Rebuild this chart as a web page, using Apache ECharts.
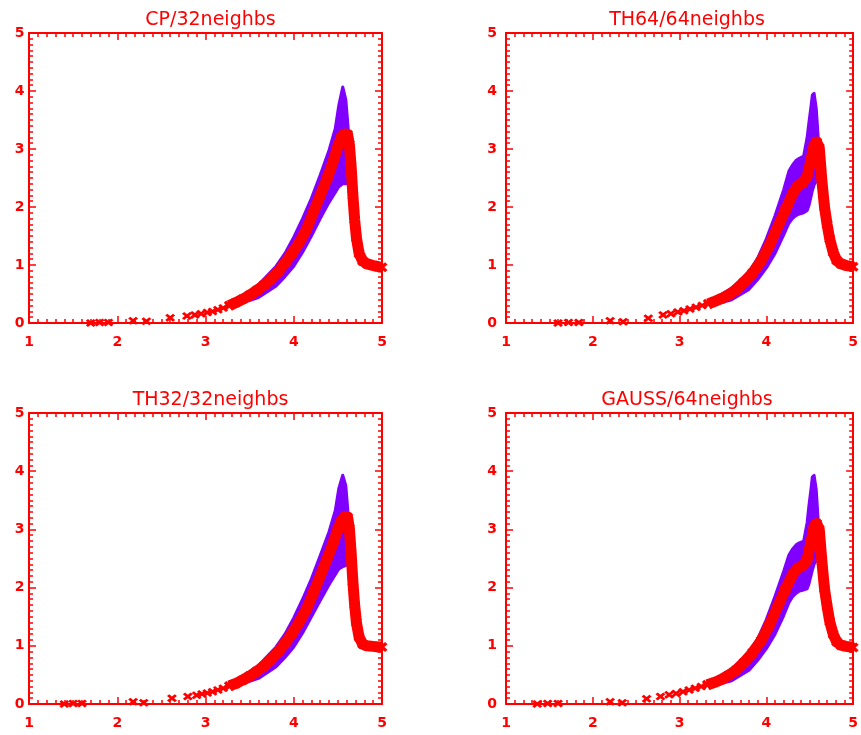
<!DOCTYPE html>
<html>
<head>
<meta charset="utf-8">
<script src="https://cdn.jsdelivr.net/npm/echarts@6/dist/echarts.min.js"></script>
<style>
html,body{margin:0;padding:0;background:#fff;}
#chart{width:861px;height:735px;}
</style>
</head>
<body>
<div id="chart"></div>
<script>
// ---- Data ----
const titles = ['CP/32neighbs', 'TH64/64neighbs', 'TH32/32neighbs', 'GAUSS/64neighbs'];
const xTicks = [1, 2, 3, 4, 5];
const yTicks = [0, 1, 2, 3, 4, 5];

// Panel 1: CP/32neighbs
const redX1 = [1.70, 1.80, 1.90, 2.18, 2.33, 2.60, 2.79, 2.88, 2.95, 3.02, 3.08, 3.14, 3.20, 3.27, 3.34, 3.42, 3.50, 3.58, 3.66, 3.74, 3.82, 3.90, 3.98, 4.06, 4.14, 4.22, 4.30, 4.38, 4.45, 4.50, 4.54, 4.58, 4.61, 4.63, 4.65, 4.67, 4.69, 4.71, 4.74, 4.78, 4.83, 4.90, 4.96, 5.00];
const redY1 = [0.00, 0.01, 0.01, 0.04, 0.03, 0.09, 0.12, 0.14, 0.16, 0.18, 0.20, 0.23, 0.26, 0.30, 0.35, 0.41, 0.48, 0.56, 0.65, 0.76, 0.88, 1.03, 1.20, 1.38, 1.60, 1.90, 2.20, 2.50, 2.80, 3.05, 3.20, 3.26, 3.25, 3.08, 2.70, 2.20, 1.78, 1.47, 1.20, 1.07, 1.02, 0.99, 0.97, 0.96];
const bandX1 = [3.40, 3.60, 3.80, 3.90, 4.00, 4.10, 4.20, 4.30, 4.40, 4.47, 4.51, 4.555, 4.59, 4.62, 4.65];
const bandHi1 = [0.42, 0.66, 0.98, 1.20, 1.48, 1.80, 2.15, 2.55, 2.98, 3.35, 3.75, 4.07, 3.85, 3.30, 2.50];
const bandLo1 = [0.34, 0.44, 0.64, 0.80, 0.98, 1.22, 1.50, 1.80, 2.08, 2.25, 2.35, 2.40, 2.40, 2.42, 2.30];

// Panel 2: TH64/64neighbs
const redX2 = [1.60, 1.72, 1.84, 2.20, 2.35, 2.64, 2.81, 2.90, 2.98, 3.05, 3.12, 3.19, 3.26, 3.33, 3.40, 3.48, 3.56, 3.65, 3.74, 3.84, 3.94, 4.03, 4.12, 4.22, 4.30, 4.36, 4.42, 4.47, 4.51, 4.55, 4.58, 4.61, 4.64, 4.67, 4.70, 4.73, 4.77, 4.81, 4.86, 4.92, 4.97, 5.00];
const redY2 = [0.00, 0.01, 0.01, 0.04, 0.02, 0.08, 0.14, 0.16, 0.19, 0.21, 0.24, 0.27, 0.30, 0.33, 0.37, 0.42, 0.48, 0.57, 0.70, 0.86, 1.07, 1.32, 1.62, 1.95, 2.22, 2.36, 2.42, 2.52, 2.78, 3.06, 3.12, 3.02, 2.45, 2.00, 1.70, 1.45, 1.22, 1.08, 1.02, 0.99, 0.98, 0.97];
const bandX2 = [3.40, 3.60, 3.80, 3.90, 4.00, 4.10, 4.20, 4.26, 4.30, 4.34, 4.38, 4.43, 4.47, 4.49, 4.51, 4.53, 4.55, 4.575, 4.60, 4.63];
const bandHi2 = [0.42, 0.60, 0.88, 1.12, 1.45, 1.85, 2.30, 2.62, 2.72, 2.80, 2.84, 2.88, 3.20, 3.45, 3.68, 3.93, 3.96, 3.70, 3.15, 2.50];
const bandLo2 = [0.32, 0.40, 0.58, 0.75, 0.95, 1.20, 1.52, 1.72, 1.80, 1.85, 1.88, 1.90, 1.94, 2.02, 2.15, 2.28, 2.38, 2.45, 2.45, 2.30];

// Panel 3: TH32/32neighbs
const redX3 = [1.40, 1.50, 1.60, 2.18, 2.30, 2.62, 2.80, 2.90, 2.96, 3.02, 3.08, 3.14, 3.20, 3.27, 3.34, 3.42, 3.50, 3.58, 3.66, 3.74, 3.82, 3.90, 3.98, 4.06, 4.14, 4.22, 4.30, 4.38, 4.45, 4.50, 4.54, 4.58, 4.61, 4.63, 4.65, 4.67, 4.69, 4.71, 4.74, 4.78, 4.83, 4.90, 4.96, 5.00];
const redY3 = [0.00, 0.01, 0.01, 0.04, 0.02, 0.10, 0.13, 0.15, 0.17, 0.19, 0.21, 0.24, 0.27, 0.31, 0.35, 0.41, 0.48, 0.56, 0.65, 0.76, 0.89, 1.04, 1.21, 1.40, 1.62, 1.90, 2.20, 2.50, 2.78, 3.00, 3.15, 3.22, 3.21, 3.02, 2.60, 2.10, 1.70, 1.40, 1.15, 1.03, 1.00, 0.99, 0.98, 0.98];
const bandX3 = [3.40, 3.60, 3.80, 3.90, 4.00, 4.10, 4.20, 4.30, 4.40, 4.47, 4.51, 4.555, 4.59, 4.62, 4.65];
const bandHi3 = [0.42, 0.66, 0.98, 1.20, 1.48, 1.80, 2.15, 2.55, 2.96, 3.32, 3.70, 3.93, 3.75, 3.20, 2.45];
const bandLo3 = [0.34, 0.44, 0.64, 0.80, 0.98, 1.22, 1.50, 1.78, 2.05, 2.22, 2.32, 2.36, 2.38, 2.40, 2.28];

// Panel 4: GAUSS/64neighbs
const redX4 = [1.36, 1.48, 1.60, 2.20, 2.34, 2.62, 2.78, 2.88, 2.96, 3.04, 3.11, 3.18, 3.25, 3.32, 3.40, 3.48, 3.56, 3.65, 3.74, 3.84, 3.94, 4.03, 4.12, 4.22, 4.30, 4.36, 4.42, 4.47, 4.51, 4.55, 4.58, 4.61, 4.64, 4.67, 4.70, 4.73, 4.77, 4.81, 4.86, 4.92, 4.97, 5.00];
const redY4 = [0.00, 0.01, 0.01, 0.04, 0.02, 0.09, 0.13, 0.16, 0.18, 0.21, 0.24, 0.27, 0.30, 0.33, 0.37, 0.42, 0.49, 0.58, 0.71, 0.88, 1.09, 1.34, 1.64, 1.97, 2.22, 2.33, 2.38, 2.48, 2.75, 3.04, 3.10, 3.00, 2.45, 1.98, 1.68, 1.42, 1.20, 1.07, 1.01, 0.99, 0.98, 0.97];
const bandX4 = [3.40, 3.60, 3.80, 3.90, 4.00, 4.10, 4.20, 4.26, 4.30, 4.34, 4.38, 4.43, 4.47, 4.49, 4.51, 4.53, 4.55, 4.575, 4.60, 4.63];
const bandHi4 = [0.42, 0.60, 0.88, 1.12, 1.45, 1.85, 2.28, 2.56, 2.66, 2.73, 2.77, 2.80, 3.12, 3.40, 3.64, 3.90, 3.93, 3.68, 3.10, 2.45];
const bandLo4 = [0.32, 0.40, 0.58, 0.75, 0.95, 1.20, 1.52, 1.74, 1.84, 1.90, 1.94, 1.96, 1.98, 2.06, 2.18, 2.30, 2.40, 2.46, 2.45, 2.28];

// ---- Layout / style ----
const RED = '#ff0000';
const PURPLE = '#8000ff';
const X_MARK = 'path://M0,2.2L2.2,0L5,2.8L7.8,0L10,2.2L7.2,5L10,7.8L7.8,10L5,7.2L2.2,10L0,7.8L2.8,5Z';
const DENSE_FROM = 3.27;

const panels = [
  {title: titles[0], rx: redX1, ry: redY1, bx: bandX1, bh: bandHi1, bl: bandLo1, left: 29, top: 33, w: 353, h: 290, ylm: 9.5},
  {title: titles[1], rx: redX2, ry: redY2, bx: bandX2, bh: bandHi2, bl: bandLo2, left: 506, top: 33, w: 352, h: 290, ylm: 14},
  {title: titles[2], rx: redX3, ry: redY3, bx: bandX3, bh: bandHi3, bl: bandLo3, left: 29, top: 413, w: 353, h: 291, ylm: 9.5},
  {title: titles[3], rx: redX4, ry: redY4, bx: bandX4, bh: bandHi4, bl: bandLo4, left: 506, top: 413, w: 352, h: 291, ylm: 14}
];

const grid = [], xAxis = [], yAxis = [], series = [], title = [];
const lineStyle = {color: RED, width: 2};
const tickStyle = {color: RED, width: 1.5};
const labelFont = {color: RED, fontSize: 14, fontWeight: 'bold', fontFamily: 'DejaVu Sans'};

panels.forEach((p, i) => {
  grid.push({left: p.left, top: p.top, width: p.w, height: p.h, containLabel: false});
  title.push({
    text: p.title, left: p.left + p.w / 2, top: p.top - 27, textAlign: 'center',
    textStyle: {color: RED, fontSize: 19, fontWeight: 'normal', fontFamily: 'DejaVu Sans'}
  });
  const xBase = {
    type: 'value', gridIndex: i, min: xTicks[0], max: xTicks[xTicks.length - 1], interval: 1,
    axisLine: {show: true, onZero: false, lineStyle},
    axisTick: {show: true, inside: true, length: 7, lineStyle: tickStyle},
    minorTick: {show: true, splitNumber: 10, length: 4, lineStyle: tickStyle},
    splitLine: {show: false}, minorSplitLine: {show: false}
  };
  xAxis.push(Object.assign({}, xBase, {position: 'bottom',
    axisLabel: Object.assign({show: true, margin: 19, verticalAlign: 'middle'}, labelFont)}));
  xAxis.push(Object.assign({}, xBase, {position: 'top', axisLabel: {show: false}}));
  const yBase = {
    type: 'value', gridIndex: i, min: yTicks[0], max: yTicks[yTicks.length - 1], interval: 1,
    axisLine: {show: true, onZero: false, lineStyle},
    axisTick: {show: true, inside: true, length: 7, lineStyle: tickStyle},
    minorTick: {show: true, splitNumber: 10, length: 4, lineStyle: tickStyle},
    splitLine: {show: false}, minorSplitLine: {show: false}
  };
  yAxis.push(Object.assign({}, yBase, {position: 'left',
    axisLabel: Object.assign({show: true, margin: p.ylm, align: 'center', verticalAlign: 'middle'}, labelFont)}));
  yAxis.push(Object.assign({}, yBase, {position: 'right', axisLabel: {show: false}}));

  const xi = 2 * i, yi = 2 * i;
  // purple band: polygon = upper edge forward, lower edge backward
  const poly = p.bx.map((x, j) => [x, p.bh[j]])
    .concat(p.bx.map((x, j) => [x, p.bl[j]]).reverse());
  series.push({
    type: 'custom', xAxisIndex: xi, yAxisIndex: yi, silent: true, clip: true, z: 2,
    data: poly,
    renderItem: (params, api) => {
      if (params.dataIndex !== 0) return null;
      const pts = poly.map(d => api.coord(d));
      return {type: 'polygon', shape: {points: pts},
        style: {fill: PURPLE, stroke: PURPLE, lineWidth: 3, lineJoin: 'round'}};
    }
  });
  // red dense part: thick line of overlapping crosses
  const dense = p.rx.map((x, j) => [x, p.ry[j]]).filter(d => d[0] >= DENSE_FROM);
  const sparse = p.rx.map((x, j) => [x, p.ry[j]]).filter(d => d[0] < DENSE_FROM + 0.05);
  series.push({
    type: 'line', xAxisIndex: xi, yAxisIndex: yi, silent: true, data: dense,
    symbol: X_MARK, symbolSize: [11, 10], showSymbol: true, showAllSymbol: true,
    itemStyle: {color: RED}, lineStyle: {color: RED, width: 11, join: 'round'}, z: 3
  });
  series.push({
    type: 'scatter', xAxisIndex: xi, yAxisIndex: yi, silent: true, data: sparse,
    symbol: X_MARK, symbolSize: [10, 8], itemStyle: {color: RED, opacity: 1}, z: 3
  });
});

const chart = echarts.init(document.getElementById('chart'), null, {renderer: 'canvas'});
chart.setOption({
  animation: false,
  backgroundColor: '#ffffff',
  title, grid, xAxis, yAxis, series
});
</script>
</body>
</html>
